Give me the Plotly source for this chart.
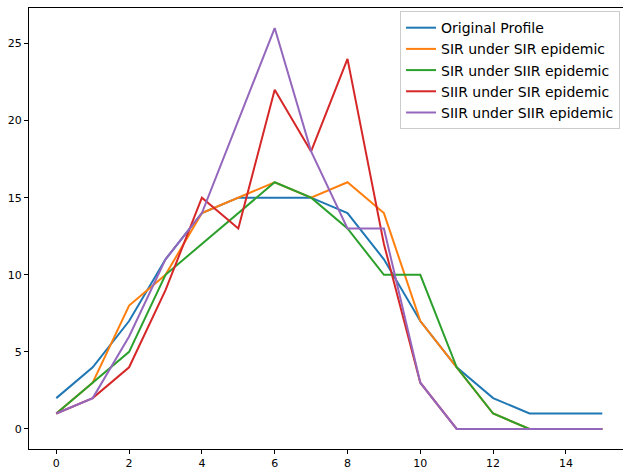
import plotly.graph_objects as go

x = list(range(16))
original = [2, 4, 7, 11, 14, 15, 15, 15, 14, 11, 7, 4, 2, 1, 1, 1]
sir_sir = [1, 3, 8, 10, 14, 15, 16, 15, 16, 14, 7, 4, 1, 0, 0, 0]
sir_siir = [1, 3, 5, 10, 12, 14, 16, 15, 13, 10, 10, 4, 1, 0, 0, 0]
siir_sir = [1, 2, 4, 9, 15, 13, 22, 18, 24, 12, 3, 0, 0, 0, 0, 0]
siir_siir = [1, 2, 6, 11, 14, 20, 26, 18, 13, 13, 3, 0, 0, 0, 0, 0]

names = ["Original Profile", "SIR under SIR epidemic", "SIR under SIIR epidemic",
         "SIIR under SIR epidemic", "SIIR under SIIR epidemic"]
series = [original, sir_sir, sir_siir, siir_sir, siir_siir]
colors = ["#1f77b4", "#ff7f0e", "#2ca02c", "#d62728", "#9467bd"]

fig = go.Figure()
for n, s, c in zip(names, series, colors):
    fig.add_trace(go.Scatter(x=x, y=s, mode="lines", name=n,
                             line=dict(color=c, width=2)))

W, H = 623, 472
ml, mt, mb = 29, 8, 23
px_per_x = 36.4
xmax = (W - ml) / px_per_x - 0.75

axis_common = dict(showline=True, linecolor="black", linewidth=1, mirror=True,
                   ticks="outside", ticklen=4, tickcolor="black", tickwidth=1,
                   showgrid=False, zeroline=False,
                   tickfont=dict(family="DejaVu Sans", size=11, color="black"))

fig.update_layout(
    width=W, height=H,
    margin=dict(l=ml, r=0, t=mt, b=mb),
    paper_bgcolor="white", plot_bgcolor="white",
    xaxis=dict(range=[-0.75, xmax], tickmode="array", tickvals=[0, 2, 4, 6, 8, 10, 12, 14], **axis_common),
    yaxis=dict(range=[-1.3, 27.3], tickmode="array", tickvals=[0, 5, 10, 15, 20, 25], **axis_common),
    legend=dict(x=0.995, y=0.993, xanchor="right", yanchor="top",
                bgcolor="rgba(255,255,255,0.8)", bordercolor="#cccccc", borderwidth=1,
                font=dict(family="DejaVu Sans", size=14, color="black"),
                itemwidth=30, tracegroupgap=0),
    showlegend=True,
)

fig.write_html("out.html")
